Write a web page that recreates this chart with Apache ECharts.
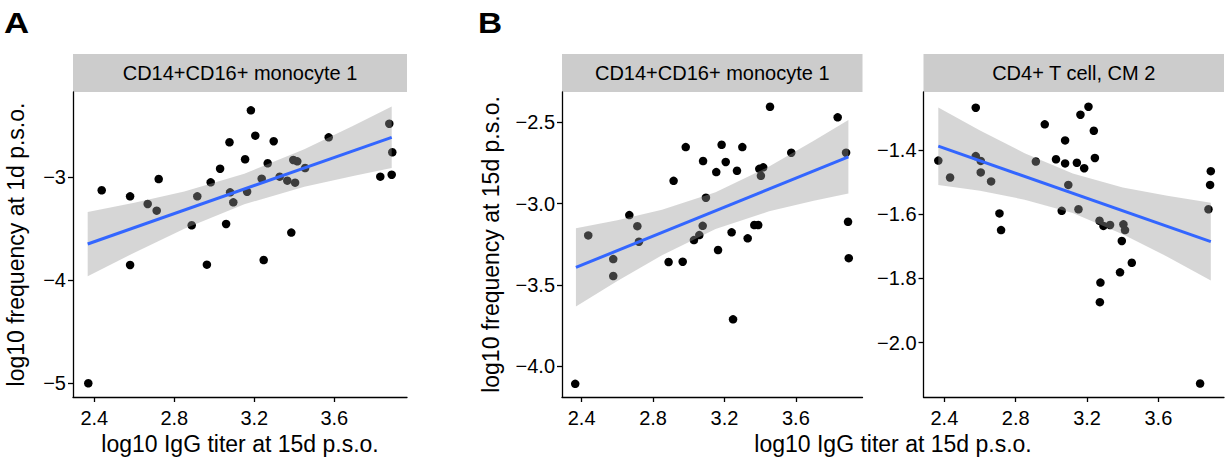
<!DOCTYPE html>
<html>
<head>
<meta charset="utf-8">
<script src="https://cdn.jsdelivr.net/npm/echarts@6/dist/echarts.min.js"></script>
<style>
  html, body { margin: 0; padding: 0; background: #fff; }
  #chart { width: 1225px; height: 460px; }
</style>
</head>
<body>
<div id="chart"></div>
<script>
// ---------- data ----------
const xTicks = [2.4, 2.8, 3.2, 3.6];
const yTicksA = [-5, -4, -3];
const yTicksB1 = [-4.0, -3.5, -3.0, -2.5];
const yTicksB2 = [-2.0, -1.8, -1.6, -1.4];

const stripA = "CD14+CD16+ monocyte 1";
const stripB1 = "CD14+CD16+ monocyte 1";
const stripB2 = "CD4+ T cell, CM 2";
const xTitle = "log10 IgG titer at 15d p.s.o.";
const yTitleA = "log10 frequency at 1d p.s.o.";
const yTitleB = "log10 frequency at 15d p.s.o.";

// Panel A points
const xA = [2.37, 2.437, 2.579, 2.579, 2.667, 2.712, 2.722, 2.887, 2.915, 2.963, 2.982, 3.029, 3.059, 3.076, 3.079, 3.095, 3.154, 3.164, 3.183, 3.205, 3.237, 3.247, 3.267, 3.297, 3.327, 3.365, 3.385, 3.395, 3.415, 3.404, 3.454, 3.572, 3.83, 3.875, 3.89, 3.887];
const yA = [-5.0, -3.126, -3.185, -3.851, -3.259, -3.324, -3.017, -3.466, -3.185, -3.848, -3.049, -2.917, -3.453, -2.66, -3.146, -3.243, -2.825, -3.14, -2.35, -2.596, -3.013, -3.803, -2.864, -2.65, -2.994, -3.033, -3.537, -2.832, -2.845, -3.052, -2.91, -2.612, -2.994, -2.48, -2.757, -2.975];
// Panel A fit line and band
const lineAx = [2.367, 3.887];
const lineAy = [-3.648, -2.612];
const bandAx = [2.367, 2.6, 2.85, 3.15, 3.45, 3.7, 3.887];
const bandAhi = [-3.336, -3.246, -3.138, -2.966, -2.728, -2.494, -2.313];
const bandAlo = [-3.960, -3.732, -3.500, -3.262, -3.092, -2.984, -2.911];

// Panel B (monocyte) points
const xB1 = [2.364, 2.437, 2.577, 2.577, 2.667, 2.712, 2.721, 2.887, 2.915, 2.966, 2.983, 3.029, 3.059, 3.078, 3.08, 3.096, 3.154, 3.164, 3.184, 3.207, 3.24, 3.248, 3.27, 3.3, 3.33, 3.367, 3.389, 3.395, 3.417, 3.404, 3.455, 3.574, 3.834, 3.881, 3.892, 3.896];
const yB1 = [-4.11, -3.196, -3.342, -3.446, -3.071, -3.139, -3.235, -3.36, -2.86, -3.358, -2.652, -3.225, -3.194, -3.137, -2.738, -2.964, -2.806, -3.286, -2.638, -2.744, -3.177, -3.713, -2.798, -2.652, -3.214, -3.132, -3.132, -2.786, -2.777, -2.829, -2.404, -2.687, -2.469, -2.687, -3.112, -3.336];
const lineB1x = [2.368, 3.894];
const lineB1y = [-3.393, -2.712];
const bandB1x = [2.368, 2.6, 2.85, 3.15, 3.45, 3.7, 3.894];
const bandB1hi = [-3.152, -3.102, -3.038, -2.931, -2.772, -2.613, -2.486];
const bandB1lo = [-3.634, -3.476, -3.318, -3.157, -3.048, -2.983, -2.938];

// Panel B (CD4+ T cell) points
const xB2 = [2.366, 2.432, 2.576, 2.576, 2.604, 2.604, 2.662, 2.709, 2.718, 2.913, 2.963, 3.026, 3.058, 3.077, 3.077, 3.095, 3.143, 3.152, 3.163, 3.184, 3.208, 3.238, 3.244, 3.27, 3.275, 3.272, 3.292, 3.329, 3.385, 3.395, 3.404, 3.413, 3.451, 3.834, 3.881, 3.894, 3.89];
const yB2 = [-1.432, -1.485, -1.267, -1.418, -1.433, -1.469, -1.497, -1.597, -1.649, -1.435, -1.319, -1.428, -1.589, -1.369, -1.441, -1.508, -1.439, -1.584, -1.289, -1.456, -1.264, -1.339, -1.424, -1.62, -1.813, -1.874, -1.636, -1.633, -1.781, -1.683, -1.631, -1.649, -1.751, -2.128, -1.584, -1.465, -1.508];
const lineB2x = [2.366, 3.894];
const lineB2y = [-1.387, -1.685];
const bandB2x = [2.366, 2.6, 2.85, 3.12, 3.4, 3.65, 3.894];
const bandB2hi = [-1.266, -1.338, -1.409, -1.472, -1.516, -1.542, -1.564];
const bandB2lo = [-1.508, -1.526, -1.554, -1.596, -1.662, -1.732, -1.806];

// ---------- chart ----------
const FONT = "'Liberation Sans', Arial, Helvetica, sans-serif";
const chart = echarts.init(document.getElementById('chart'), null, { renderer: 'svg' });

const zip = (xs, ys) => xs.map((x, i) => [x, ys[i]]);
const minus = s => s.replace('-', '\u2212');
const fmtX = v => minus(v.toFixed(1));

function xAxisCfg(gi, min, max) {
  return {
    type: 'value', gridIndex: gi, min: min, max: max,
    axisLine: { show: true, onZero: false, lineStyle: { color: '#000', width: 1.3 } },
    axisTick: { show: true, length: 5, customValues: xTicks, lineStyle: { color: '#000', width: 1.3 } },
    axisLabel: { customValues: xTicks, margin: 11, fontSize: 20, color: '#000', fontFamily: FONT,
                 showMinLabel: true, showMaxLabel: true, hideOverlap: false, formatter: fmtX },
    splitLine: { show: false }
  };
}
function yAxisCfg(gi, min, max, ticks, dec) {
  return {
    type: 'value', gridIndex: gi, min: min, max: max,
    axisLine: { show: true, onZero: false, lineStyle: { color: '#000', width: 1.3 } },
    axisTick: { show: true, length: 5, customValues: ticks, lineStyle: { color: '#000', width: 1.3 } },
    axisLabel: { customValues: ticks, margin: 7, fontSize: 20, color: '#000', fontFamily: FONT,
                 showMinLabel: true, showMaxLabel: true, hideOverlap: false,
                 formatter: v => minus(v.toFixed(dec)) },
    splitLine: { show: false }
  };
}
function bandSeries(gi, bx, hi, lo) {
  return {
    type: 'custom', xAxisIndex: gi, yAxisIndex: gi, z: 3, silent: true,
    data: [[bx[0], hi[0]]],
    renderItem: function (params, api) {
      const pts = [];
      for (let k = 0; k < bx.length; k++) pts.push(api.coord([bx[k], hi[k]]));
      for (let k = bx.length - 1; k >= 0; k--) pts.push(api.coord([bx[k], lo[k]]));
      return { type: 'polygon', shape: { points: pts }, style: { fill: 'rgba(153,153,153,0.4)', stroke: null } };
    }
  };
}
function scatterSeries(gi, xs, ys) {
  return { type: 'scatter', xAxisIndex: gi, yAxisIndex: gi, z: 2, symbol: 'circle', symbolSize: 8.5,
           itemStyle: { color: '#000', opacity: 1 }, data: zip(xs, ys), silent: true };
}
function lineSeries(gi, xs, ys) {
  return { type: 'line', xAxisIndex: gi, yAxisIndex: gi, z: 4, symbol: 'none', silent: true,
           lineStyle: { color: '#3366FF', width: 3 }, data: zip(xs, ys) };
}
function txt(x, y, text, size, style, extra) {
  return Object.assign({ type: 'text', x: x, y: y, silent: true,
    style: Object.assign({ text: text, fontSize: size, fontFamily: FONT, fill: '#000',
                           align: 'center', verticalAlign: 'middle' }, style || {}) }, extra || {});
}
function strip(x, w, text) {
  return [
    { type: 'rect', shape: { x: x, y: 54, width: w, height: 38 }, style: { fill: '#cccccc' }, silent: true },
    txt(x + w / 2, 73, text, 20)
  ];
}

const letterStyle = { fontWeight: 900, align: 'left' };

chart.setOption({
  animation: false,
  backgroundColor: '#fff',
  grid: [
    { left: 73, top: 92, width: 334, height: 305 },
    { left: 562, top: 92, width: 300.5, height: 305 },
    { left: 923.5, top: 92, width: 300.5, height: 305 }
  ],
  xAxis: [ xAxisCfg(0, 2.2935, 3.9635), xAxisCfg(1, 2.29, 3.973), xAxisCfg(2, 2.283, 3.968) ],
  yAxis: [ yAxisCfg(0, -5.133, -2.172, yTicksA, 0),
           yAxisCfg(1, -4.191, -2.313, yTicksB1, 1),
           yAxisCfg(2, -2.170, -1.218, yTicksB2, 1) ],
  series: [
    scatterSeries(0, xA, yA), bandSeries(0, bandAx, bandAhi, bandAlo), lineSeries(0, lineAx, lineAy),
    scatterSeries(1, xB1, yB1), bandSeries(1, bandB1x, bandB1hi, bandB1lo), lineSeries(1, lineB1x, lineB1y),
    scatterSeries(2, xB2, yB2), bandSeries(2, bandB2x, bandB2hi, bandB2lo), lineSeries(2, lineB2x, lineB2y)
  ],
  graphic: [].concat(
    strip(73, 334, stripA), strip(562, 300.5, stripB1), strip(923.5, 300.5, stripB2),
    [
      txt(4, 23, 'A', 29, letterStyle, { scaleX: 1.2 }),
      txt(478, 23, 'B', 29, letterStyle, { scaleX: 1.15 }),
      txt(240, 444, xTitle, 23),
      txt(893, 444, xTitle, 23),
      txt(15.5, 244.5, yTitleA, 23, null, { rotation: Math.PI / 2 }),
      txt(491, 244.5, yTitleB, 23, null, { rotation: Math.PI / 2 })
    ]
  )
});

// make sure no axis label text is left transparent or hidden
function unhideTexts() {
  document.querySelectorAll('#chart svg text').forEach(t => {
    ['opacity', 'fill-opacity', 'visibility', 'display'].forEach(a => t.removeAttribute(a));
    t.style.opacity = ''; t.style.visibility = ''; t.style.display = '';
    let p = t.parentNode;
    while (p && p.tagName && p.tagName.toLowerCase() !== 'svg') {
      ['opacity', 'visibility', 'display'].forEach(a => p.removeAttribute && p.removeAttribute(a));
      p = p.parentNode;
    }
  });
}
unhideTexts();
setTimeout(unhideTexts, 50);
setTimeout(unhideTexts, 300);
</script>
</body>
</html>
